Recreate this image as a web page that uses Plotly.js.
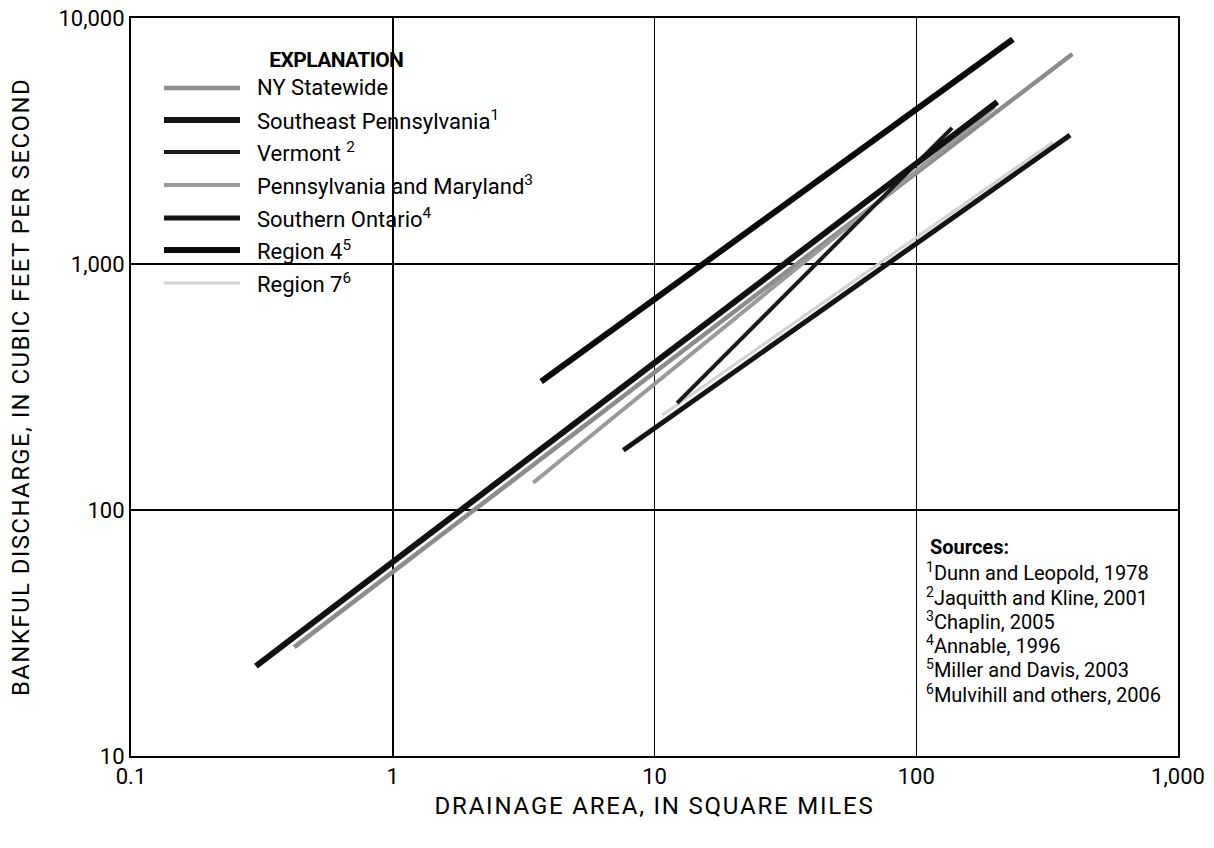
<!DOCTYPE html>
<html>
<head>
<meta charset="utf-8">
<script src="https://cdn.plot.ly/plotly-3.0.1.min.js"></script>
<style>
html,body{margin:0;padding:0;background:#fff;}
#chart{width:1214px;height:848px;}
#chart .xtitle{letter-spacing:1.8px;}
#chart .ytitle{letter-spacing:1.4px;}
#chart g.annotation[data-index="0"] text{letter-spacing:-0.6px;}
</style>
</head>
<body>
<div id="chart"></div>
<script>
// ---- Data (drainage area in sq mi, discharge in cfs) ----
const seriesNames = ["NY Statewide", "Southeast Pennsylvania", "Vermont", "Pennsylvania and Maryland", "Southern Ontario", "Region 4", "Region 7"];
const legendLabels = ["NY Statewide", "Southeast Pennsylvania<sup>1</sup>", "Vermont <sup>2</sup>", "Pennsylvania and Maryland<sup>3</sup>", "Southern Ontario<sup>4</sup>", "Region 4<sup>5</sup>", "Region 7<sup>6</sup>"];

const nyArea = [0.42, 395];
const nyQ = [27.7, 7140];
const sePaArea = [0.3, 204];
const sePaQ = [23.2, 4560];
const vtArea = [12.2, 137];
const vtQ = [272, 3575];
const paMdArea = [3.44, 200];
const paMdQ = [129, 4360];
const ontArea = [7.6, 387];
const ontQ = [175, 3340];
const r4Area = [3.69, 234];
const r4Q = [333, 8200];
const r7Area = [10.7, 333];
const r7Q = [243, 3135];

const xTickVals = [0.1, 1, 10, 100, 1000];
const xTickText = ["0.1", "1", "10", "100", "1,000"];
const yTickVals = [10, 100, 1000, 10000];
const yTickText = ["10", "100", "1,000", "10,000"];

const sourcesTitle = "Sources:";
const sourcesLines = [
  "<sup>1</sup>Dunn and Leopold, 1978",
  "<sup>2</sup>Jaquitth and Kline, 2001",
  "<sup>3</sup>Chaplin, 2005",
  "<sup>4</sup>Annable, 1996",
  "<sup>5</sup>Miller and Davis, 2003",
  "<sup>6</sup>Mulvihill and others, 2006"
];

// ---- Styles ----
const styles = [
  {color: "#8c8c8c", width: 4.5},   // NY Statewide
  {color: "#111111", width: 6},     // SE PA
  {color: "#1a1a1a", width: 4},     // Vermont
  {color: "#9a9a9a", width: 4},     // PA & MD
  {color: "#141414", width: 5},     // Southern Ontario
  {color: "#0a0a0a", width: 6},     // Region 4
  {color: "#d2d2d2", width: 3}      // Region 7
];
const areas = [nyArea, sePaArea, vtArea, paMdArea, ontArea, r4Area, r7Area];
const qs = [nyQ, sePaQ, vtQ, paMdQ, ontQ, r4Q, r7Q];

// draw order: light/grey first, black over
const order = [6, 0, 3, 2, 4, 5, 1];
const traces = order.map(i => ({
  type: "scatter", mode: "lines",
  x: areas[i], y: qs[i], name: seriesNames[i],
  line: {color: styles[i].color, width: styles[i].width},
  showlegend: false, hoverinfo: "x+y+name"
}));

const FONT = "Roboto, 'Liberation Sans', Arial, sans-serif";

// plot area in pixels
const L = 131, R = 1178, T = 18, B = 756;
const px = v => (v - L) / (R - L);
const py = v => (B - v) / (B - T);

const shapes = [];
const annotations = [];

// white legend background covering gridlines
shapes.push({type: "rect", xref: "paper", yref: "paper", x0: px(150), x1: px(530), y0: py(308), y1: py(20),
  fillcolor: "#ffffff", line: {width: 0}, layer: "between"});

annotations.push({xref: "paper", yref: "paper", x: px(264), y: py(60), xanchor: "left", yanchor: "middle",
  text: "<b>EXPLANATION</b>", showarrow: false, font: {family: FONT, size: 21, color: "#000"}});

const rowY = [88, 120, 152, 185, 218, 250, 283];
for (let i = 0; i < seriesNames.length; i++) {
  shapes.push({type: "line", xref: "paper", yref: "paper", x0: px(164), x1: px(240), y0: py(rowY[i]), y1: py(rowY[i]),
    line: {color: styles[i].color, width: styles[i].width}, layer: "above"});
  annotations.push({xref: "paper", yref: "paper", x: px(255), y: py(rowY[i]), xanchor: "left", yanchor: "middle",
    text: legendLabels[i], showarrow: false, font: {family: FONT, size: 22, color: "#000"}});
}

annotations.push({xref: "paper", yref: "paper", x: px(928), y: py(547), xanchor: "left", yanchor: "middle",
  text: "<b>" + sourcesTitle + "</b>", showarrow: false, font: {family: FONT, size: 20, color: "#000"}});
const srcY = [572, 597, 621, 645, 669, 694];
for (let i = 0; i < sourcesLines.length; i++) {
  annotations.push({xref: "paper", yref: "paper", x: px(924), y: py(srcY[i]), xanchor: "left", yanchor: "middle",
    text: sourcesLines[i], showarrow: false, font: {family: FONT, size: 20, color: "#000"}});
}

const layout = {
  width: 1214, height: 848,
  margin: {l: L, r: 1214 - R, t: T, b: 848 - B},
  paper_bgcolor: "#ffffff", plot_bgcolor: "#ffffff",
  font: {family: FONT, color: "#000"},
  showlegend: false,
  xaxis: {
    type: "log", range: [-1, 3],
    tickvals: xTickVals, ticktext: xTickText,
    tickfont: {family: FONT, size: 22, color: "#000"},
    showgrid: true, gridcolor: "#000", gridwidth: 1.5,
    showline: true, linecolor: "#000", linewidth: 2, mirror: true,
    ticks: "", zeroline: false,
    title: {text: "DRAINAGE AREA, IN SQUARE MILES", font: {family: FONT, size: 24, color: "#000"}, standoff: 9}
  },
  yaxis: {
    type: "log", range: [1, 4],
    tickvals: yTickVals, ticktext: yTickText,
    tickfont: {family: FONT, size: 22, color: "#000"},
    showgrid: true, gridcolor: "#000", gridwidth: 1.5,
    showline: true, linecolor: "#000", linewidth: 2, mirror: true,
    ticks: "", zeroline: false,
    title: {text: "BANKFUL DISCHARGE, IN CUBIC FEET PER SECOND", font: {family: FONT, size: 24, color: "#000"}, standoff: 22}
  },
  shapes: shapes,
  annotations: annotations
};

Plotly.newPlot("chart", traces, layout, {displayModeBar: false, staticPlot: true});
</script>
</body>
</html>
